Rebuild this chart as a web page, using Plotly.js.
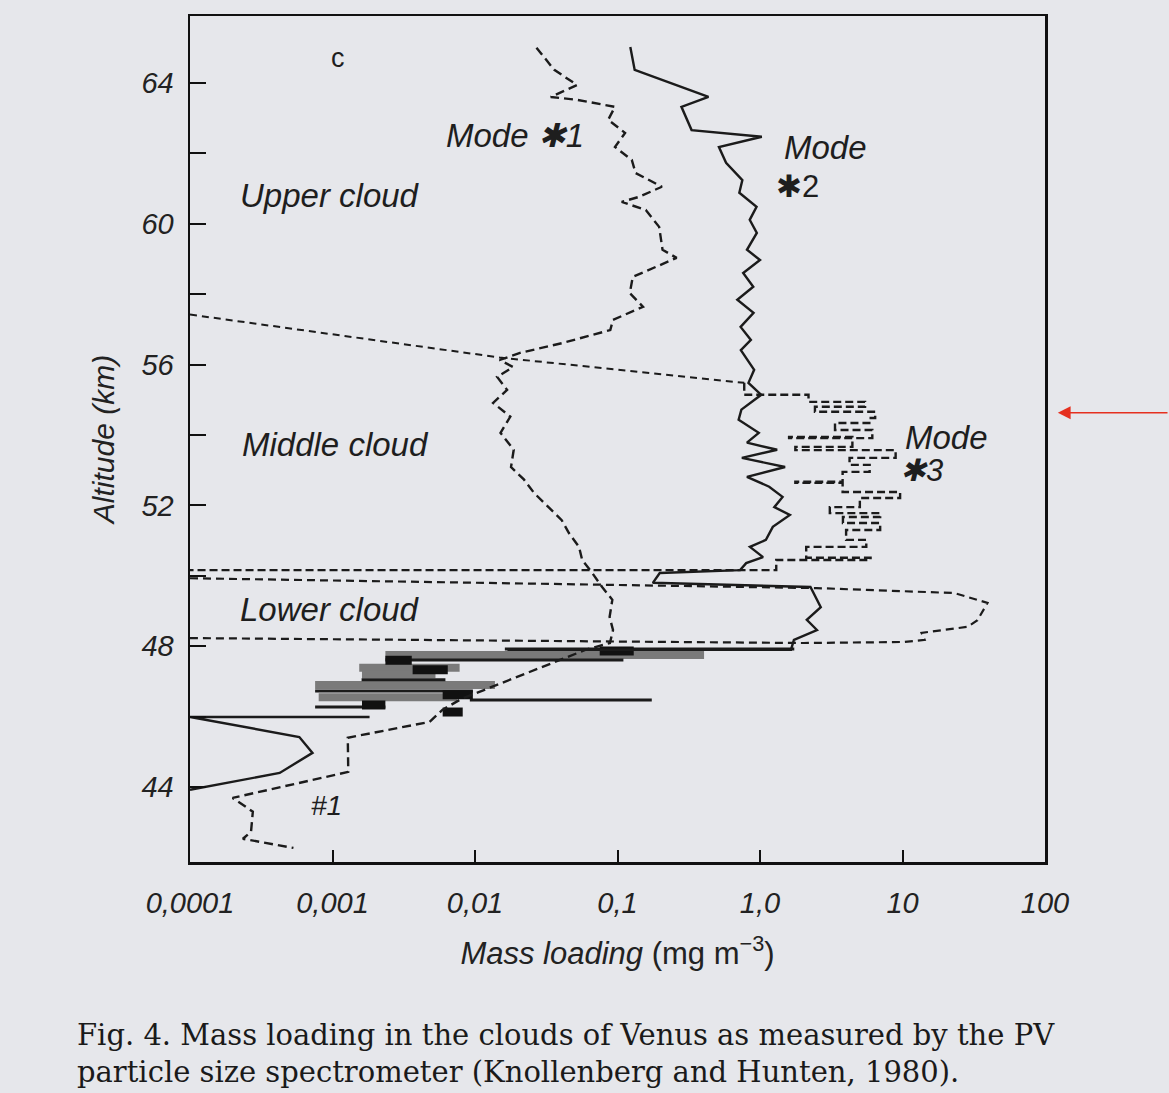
<!DOCTYPE html>
<html><head><meta charset="utf-8">
<script src="https://cdn.plot.ly/plotly-3.0.1.min.js"></script>
<style>html,body{margin:0;padding:0;background:#e6e7eb;} #chart{width:1169px;height:1093px;}</style>
</head><body><div id="chart"></div>
<script>
// ---- data (altitude km, mass loading mg m^-3) ----
const mode1Alt = [65.0, 64.37, 63.94, 63.6, 63.52, 63.32, 62.95, 62.58, 62.18, 61.81, 61.44, 61.05, 60.76, 60.62, 60.39, 59.91, 59.26, 59.03, 58.49, 58.03, 57.64, 57.27, 56.98, 56.61, 56.33, 56.13, 55.93, 55.65, 55.28, 54.91, 54.52, 54.06, 53.58, 53.09, 52.73, 52.35, 51.95, 51.58, 51.22, 50.82, 50.45, 50.08, 49.68, 49.32, 48.83, 48.46, 48.09, 47.9, 46.5, 46.19, 45.85, 45.45, 45.40, 44.43, 43.69, 43.30, 42.73, 42.53, 42.27];
const mode1Mass = [0.027, 0.036, 0.052, 0.034, 0.052, 0.096, 0.086, 0.113, 0.096, 0.126, 0.134, 0.205, 0.141, 0.107, 0.158, 0.196, 0.207, 0.26, 0.128, 0.122, 0.151, 0.093, 0.089, 0.041, 0.0207, 0.0149, 0.0185, 0.0143, 0.0168, 0.0134, 0.0177, 0.0151, 0.0187, 0.0179, 0.0221, 0.026, 0.0328, 0.0406, 0.0455, 0.0537, 0.0565, 0.0665, 0.078, 0.092, 0.088, 0.093, 0.0885, 0.06, 0.008, 0.0059, 0.0048, 0.00145, 0.00128, 0.00129, 0.000199, 0.000276, 0.000268, 0.000235, 0.000532];

const mode2Alt = [65.02, 64.37, 63.6, 63.32, 62.66, 62.47, 62.18, 61.73, 61.24, 60.88, 60.48, 60.11, 59.74, 59.26, 58.97, 58.6, 58.21, 57.84, 57.47, 57.07, 56.7, 56.41, 55.85, 55.48, 55.14, 54.72, 54.43, 54.06, 53.78, 53.58, 53.35, 53.09, 52.81, 52.53, 52.24, 51.95, 51.73, 51.39, 51.02, 50.82, 50.53, 50.36, 50.16, 50.08, 49.8, 49.68, 49.11, 48.75, 48.46, 48.18, 47.9, 47.9];
const mode2Mass = [0.123, 0.132, 0.435, 0.281, 0.331, 1.03, 0.515, 0.578, 0.752, 0.716, 0.946, 0.847, 0.95, 0.81, 1.0, 0.762, 0.897, 0.693, 0.901, 0.731, 0.863, 0.734, 0.91, 0.83, 1.02, 0.74, 0.708, 0.98, 0.81, 1.32, 0.746, 1.5, 0.81, 1.16, 1.44, 1.26, 1.62, 1.23, 1.10, 0.85, 1.05, 0.80, 0.725, 0.198, 0.177, 2.26, 2.67, 2.13, 2.51, 1.73, 1.65, 0.0169];

const mode2LowAlt = [45.99, 45.99, 45.42, 44.97, 44.4, 43.92];
const mode2LowMass = [0.00182, 0.0001, 0.000585, 0.000724, 0.000426, 0.0001];

const mode3MidAlt = [55.48, 55.14, 54.94, 54.8, 54.66, 54.48, 54.34, 54.14, 53.91, 53.94, 53.66, 53.57, 53.35, 53.15, 52.95, 52.64, 52.67, 52.38, 52.21, 51.95, 51.78, 51.67, 51.5, 51.3, 51.02, 50.82, 50.51, 50.45, 50.16, 50.16];
const mode3MidMass = [0.775, 2.19, 5.46, 2.43, 6.43, 5.85, 3.36, 6.14, 1.60, 4.45, 1.77, 8.95, 4.25, 5.88, 3.80, 1.77, 3.80, 9.62, 5.02, 3.09, 6.97, 3.82, 6.97, 4.02, 5.57, 2.11, 5.97, 1.30, 0.80, 0.0001];

const mode3LowAlt = [49.93, 49.65, 49.51, 49.23, 48.74, 48.55, 48.38, 48.18, 48.12, 48.09, 48.23];
const mode3LowMass = [0.0001, 2.49, 23.1, 39.5, 33.6, 28.6, 13.6, 14.3, 10.3, 2.03, 0.0001];

const upperBoundAlt = [57.42, 56.2, 55.48];
const upperBoundMass = [0.0001, 0.0149, 0.775];

// lower-haze bursts: altitude, start and end mass loading
const hazeDarkAlt  = [47.92, 47.61, 46.73, 46.27, 46.47, 47.05];
const hazeDarkFrom = [0.0162, 0.00235, 0.000755, 0.000755, 0.0092, 0.0016];
const hazeDarkTo   = [1.74, 0.110, 0.00966, 0.00235, 0.174, 0.0062];
const hazeGrayAlt  = [47.75, 47.39, 47.2, 46.9, 46.55];
const hazeGrayFrom = [0.00235, 0.00154, 0.00161, 0.000755, 0.0008];
const hazeGrayTo   = [0.405, 0.0078, 0.00528, 0.0138, 0.0075];
const hazeBlockAlt  = [47.33, 46.62, 46.33, 46.13, 47.6, 47.86];
const hazeBlockFrom = [0.00365, 0.00593, 0.00161, 0.00593, 0.00235, 0.075];
const hazeBlockTo   = [0.00644, 0.00966, 0.00235, 0.0082, 0.0036, 0.13];

const massTicks = [0.0001, 0.001, 0.01, 0.1, 1, 10, 100];
const massTickLabels = ['0,0001', '0,001', '0,01', '0,1', '1,0', '10', '100'];
const altTicks = [44, 46, 48, 50, 52, 54, 56, 58, 60, 62, 64];
const altTickLabels = ['44', '', '48', '', '52', '', '56', '', '60', '', '64'];

// ---- build ----
function segs(alt, from, to) {
  const x = [], y = [];
  for (let i = 0; i < alt.length; i++) { x.push(from[i], to[i], null); y.push(alt[i], alt[i], null); }
  return {x, y};
}
const ink = '#1b1b1b';
const dark = segs(hazeDarkAlt, hazeDarkFrom, hazeDarkTo);
const gray = segs(hazeGrayAlt, hazeGrayFrom, hazeGrayTo);
const block = segs(hazeBlockAlt, hazeBlockFrom, hazeBlockTo);

const traces = [
  {x: upperBoundMass, y: upperBoundAlt, mode: 'lines', line: {color: ink, width: 2, dash: '7px,5px'}},
  {x: gray.x, y: gray.y, mode: 'lines', line: {color: '#7a7a7a', width: 8}},
  {x: dark.x, y: dark.y, mode: 'lines', line: {color: ink, width: 3}},
  {x: block.x, y: block.y, mode: 'lines', line: {color: '#111', width: 9}},
  {x: mode1Mass, y: mode1Alt, mode: 'lines', line: {color: ink, width: 2.4, dash: '9px,5px'}},
  {x: mode2Mass, y: mode2Alt, mode: 'lines', line: {color: ink, width: 2.4}},
  {x: mode2LowMass, y: mode2LowAlt, mode: 'lines', line: {color: ink, width: 2.4}},
  {x: mode3MidMass, y: mode3MidAlt, mode: 'lines', line: {color: ink, width: 2.4, dash: '8px,4px', shape: 'vh'}},
  {x: mode3LowMass, y: mode3LowAlt, mode: 'lines', line: {color: ink, width: 2.2, dash: '8px,5px'}}
];

const sans = 'Liberation Sans, Arial, sans-serif';
const lab = (text, x, y, size, extra) => Object.assign({
  text, x, y, xref: 'paper', yref: 'paper', showarrow: false,
  font: {family: sans, size: size, color: '#1e1e1e', style: 'italic'}, xanchor: 'center', yanchor: 'middle'
}, extra || {});

const annotations = [
  lab('c', 0.173, 0.950, 27, {font: {family: sans, size: 27, color: '#1e1e1e'}}),
  lab('Mode ✱1', 0.380, 0.859, 33),
  lab('Upper cloud', 0.164, 0.788, 33),
  lab('Mode', 0.743, 0.844, 33),
  lab('✱2', 0.710, 0.799, 31, {font: {family: sans, size: 31, color: '#1e1e1e'}}),
  lab('Middle cloud', 0.170, 0.494, 33),
  lab('Mode', 0.885, 0.502, 33),
  lab('✱3', 0.856, 0.463, 31),
  lab('Lower cloud', 0.164, 0.299, 33),
  lab('#1', 0.160, 0.067, 28),
  {text: 'Fig. 4. Mass loading in the clouds of Venus as measured by the PV', x: -0.1345, y: -0.2045,
   xref: 'paper', yref: 'paper', xanchor: 'left', yanchor: 'middle', showarrow: false,
   font: {family: 'DejaVu Serif, Liberation Serif, serif', size: 29, color: '#1a1a1a'}},
  {text: 'particle size spectrometer (Knollenberg and Hunten, 1980).', x: -0.1345, y: -0.248,
   xref: 'paper', yref: 'paper', xanchor: 'left', yanchor: 'middle', showarrow: false,
   font: {family: 'DejaVu Serif, Liberation Serif, serif', size: 29, color: '#1a1a1a'}},
  {text: '', x: 1.015, y: 0.531, xref: 'paper', yref: 'paper', showarrow: true, ax: 125, ay: 0,
   arrowcolor: '#e5301f', arrowwidth: 1.6, arrowhead: 2, arrowsize: 1.6, standoff: 0}
];

const layout = {
  width: 1169, height: 1093,
  margin: {l: 190, r: 124, t: 16, b: 231},
  paper_bgcolor: '#e6e7eb', plot_bgcolor: '#e6e7eb',
  showlegend: false,
  xaxis: {
    type: 'log', range: [-4, 2], tickmode: 'array', tickvals: massTicks, ticktext: massTickLabels,
    ticks: 'inside', ticklen: 12, tickwidth: 2, tickcolor: '#111',
    showline: true, linewidth: 2.5, linecolor: '#111', mirror: true,
    showgrid: false, zeroline: false, ticklabelstandoff: 14,
    tickfont: {family: sans, size: 29, color: '#222', style: 'italic'},
    title: {text: '<i>Mass loading</i> (mg m<sup>−3</sup>)', standoff: 24, font: {family: sans, size: 31, color: '#222'}}
  },
  yaxis: {
    range: [41.87, 65.9], tickmode: 'array', tickvals: altTicks, ticktext: altTickLabels,
    ticks: 'inside', ticklen: 16, tickwidth: 2, tickcolor: '#111',
    showline: true, linewidth: 2.5, linecolor: '#111', mirror: true,
    showgrid: false, zeroline: false, ticklabelstandoff: 8,
    tickfont: {family: sans, size: 29, color: '#222', style: 'italic'},
    title: {text: '<i>Altitude (km)</i>', standoff: 18, font: {family: sans, size: 30, color: '#222'}}
  },
  annotations: annotations
};

Plotly.newPlot('chart', traces, layout, {displayModeBar: false, staticPlot: true});
</script>
</body></html>
